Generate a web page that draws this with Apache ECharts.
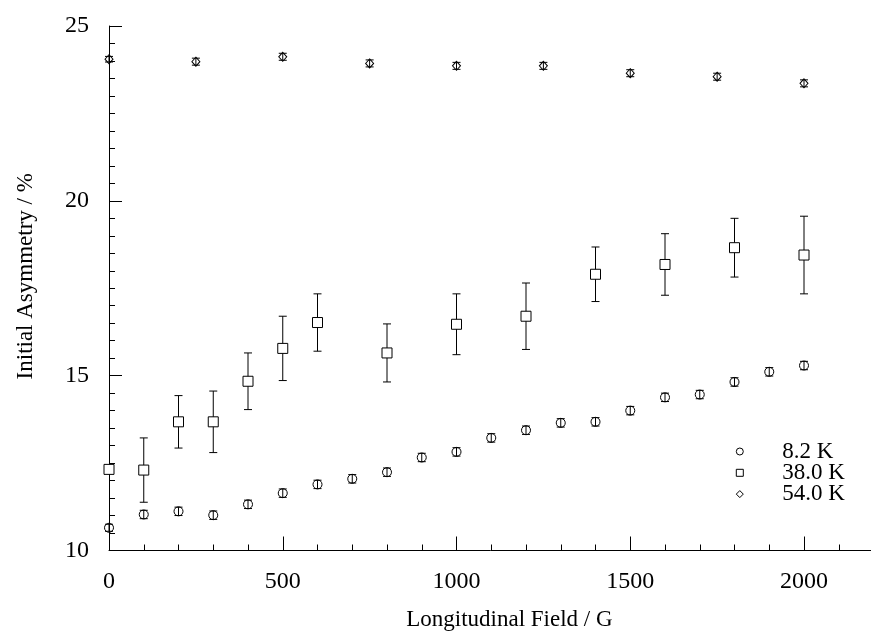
<!DOCTYPE html>
<html>
<head>
<meta charset="utf-8">
<script src="https://cdn.jsdelivr.net/npm/echarts@6/dist/echarts.min.js"></script>
<style>
  html, body { margin: 0; padding: 0; background: #fff; }
  #chart { width: 871px; height: 638px; }
</style>
</head>
<body>
<div id="chart"></div>
<script>
//--------------------- Data ---------------------------------------------//
// 8.2 K (circles)
const field82 = [0, 100, 200, 300, 400, 500, 600, 700, 800, 900, 1000, 1100, 1200, 1300, 1400, 1500, 1600, 1700, 1800, 1900, 2000];
const asym82 = [10.65, 11.03, 11.12, 11.01, 11.32, 11.64, 11.89, 12.05, 12.24, 12.66, 12.82, 13.22, 13.44, 13.65, 13.68, 14.00, 14.38, 14.46, 14.82, 15.11, 15.29];
const err82 = [0.10, 0.12, 0.12, 0.12, 0.12, 0.12, 0.12, 0.12, 0.12, 0.12, 0.12, 0.12, 0.12, 0.12, 0.12, 0.12, 0.12, 0.12, 0.12, 0.12, 0.12];

// 38.0 K (squares)
const field38 = [0, 100, 200, 300, 400, 500, 600, 800, 1000, 1200, 1400, 1600, 1800, 2000];
const asym38 = [12.32, 12.30, 13.68, 13.68, 14.84, 15.78, 16.52, 15.65, 16.47, 16.70, 17.90, 18.18, 18.66, 18.45];
const err38 = [0, 0.92, 0.75, 0.88, 0.81, 0.92, 0.82, 0.83, 0.87, 0.95, 0.78, 0.88, 0.84, 1.11];

// 54.0 K (diamonds)
const field54 = [0, 250, 500, 750, 1000, 1250, 1500, 1750, 2000];
const asym54 = [24.05, 23.98, 24.12, 23.93, 23.86, 23.86, 23.65, 23.55, 23.36];
const err54 = [0.08, 0.10, 0.10, 0.10, 0.10, 0.10, 0.10, 0.10, 0.10];

const seriesNames = ['8.2 K', '38.0 K', '54.0 K'];
const xTickLabels = [0, 500, 1000, 1500, 2000];

//--------------------- Styles ---------------------------//
const serif = 'Liberation Serif';
const black = '#000';

// vertical error bar with small caps, drawn through the axis scales
function errorBars(name, xs, ys, es, cap) {
  return {
    type: 'custom',
    name: name,
    silent: true,
    z: 1,
    data: xs.map((x, i) => [x, ys[i] - es[i], ys[i] + es[i]]),
    renderItem: (params, api) => {
      const lo = api.coord([api.value(0), api.value(1)]);
      const hi = api.coord([api.value(0), api.value(2)]);
      if (Math.abs(hi[1] - lo[1]) < 0.5) return null;
      const style = { stroke: black, lineWidth: 1 };
      return {
        type: 'group',
        children: [
          { type: 'line', shape: { x1: lo[0], y1: lo[1], x2: hi[0], y2: hi[1] }, style: style },
          { type: 'line', shape: { x1: lo[0] - cap, y1: lo[1], x2: lo[0] + cap, y2: lo[1] }, style: style },
          { type: 'line', shape: { x1: hi[0] - cap, y1: hi[1], x2: hi[0] + cap, y2: hi[1] }, style: style },
        ],
      };
    },
  };
}

function points(name, xs, ys, symbol, size, fill) {
  return {
    type: 'scatter',
    name: name,
    symbol: symbol,
    symbolSize: size,
    z: 3,
    itemStyle: { color: fill, borderColor: black, borderWidth: 1, opacity: 1 },
    data: xs.map((x, i) => [x, ys[i]]),
  };
}

//--------------------- Main ---------------------------//
const chart = echarts.init(document.getElementById('chart'), null, { renderer: 'canvas' });

const option = {
  backgroundColor: '#fff',
  animation: false,
  grid: { left: 109, top: 26, width: 868.75, height: 524.5, outerBoundsMode: 'none', containLabel: false },
  legend: {
    orient: 'vertical',
    left: 735.8,
    top: 440,
    padding: 0,
    itemWidth: 7,
    itemHeight: 7,
    itemGap: -1.7,
    selectedMode: false,
    itemStyle: { borderWidth: 1 },
    data: [
      { name: seriesNames[0], icon: 'circle' },
      { name: seriesNames[1], icon: 'rect' },
      { name: seriesNames[2], icon: 'diamond' },
    ],
    textStyle: { fontFamily: serif, fontSize: 23, color: black, lineHeight: 21, padding: [0, 0, 0, 34] },
  },
  xAxis: {
    type: 'value',
    min: 0,
    max: 2500,
    interval: 500,
    name: 'Longitudinal Field / G',
    nameLocation: 'middle',
    nameGap: 58,
    nameTextStyle: { fontFamily: serif, fontSize: 23, color: black, padding: [0, 68, 0, 0] },
    axisLine: { show: true, onZero: false, lineStyle: { color: black, width: 1 } },
    axisTick: { show: true, inside: true, length: 14, lineStyle: { color: black } },
    minorTick: { show: true, splitNumber: 5, length: 6, lineStyle: { color: black } },
    splitLine: { show: false },
    minorSplitLine: { show: false },
    axisLabel: {
      fontFamily: serif, fontSize: 24, color: black, margin: 19,
      showMaxLabel: false,
      formatter: v => (xTickLabels.includes(v) ? String(v) : ''),
    },
  },
  yAxis: {
    type: 'value',
    min: 10,
    max: 25,
    interval: 5,
    name: 'Initial Asymmetry / %',
    nameLocation: 'middle',
    nameGap: 72,
    nameTextStyle: { fontFamily: serif, fontSize: 23, color: black, padding: [0, 0, 0, 24] },
    axisLine: { show: true, onZero: false, lineStyle: { color: black, width: 1 } },
    axisTick: { show: true, inside: true, length: 13, lineStyle: { color: black } },
    minorTick: { show: true, splitNumber: 10, length: 6, lineStyle: { color: black } },
    splitLine: { show: false },
    minorSplitLine: { show: false },
    axisLabel: { fontFamily: serif, fontSize: 24, color: black, margin: 20 },
  },
  series: [
    errorBars('err82', field82, asym82, err82, 4),
    errorBars('err38', field38, asym38, err38, 4),
    errorBars('err54', field54, asym54, err54, 4),
    points(seriesNames[0], field82, asym82, 'circle', 9, 'rgba(255,255,255,0)'),
    points(seriesNames[1], field38, asym38, 'rect', 10, '#fff'),
    points(seriesNames[2], field54, asym54, 'diamond', [8, 9], 'rgba(255,255,255,0)'),
  ],
};

chart.setOption(option);
</script>
</body>
</html>
